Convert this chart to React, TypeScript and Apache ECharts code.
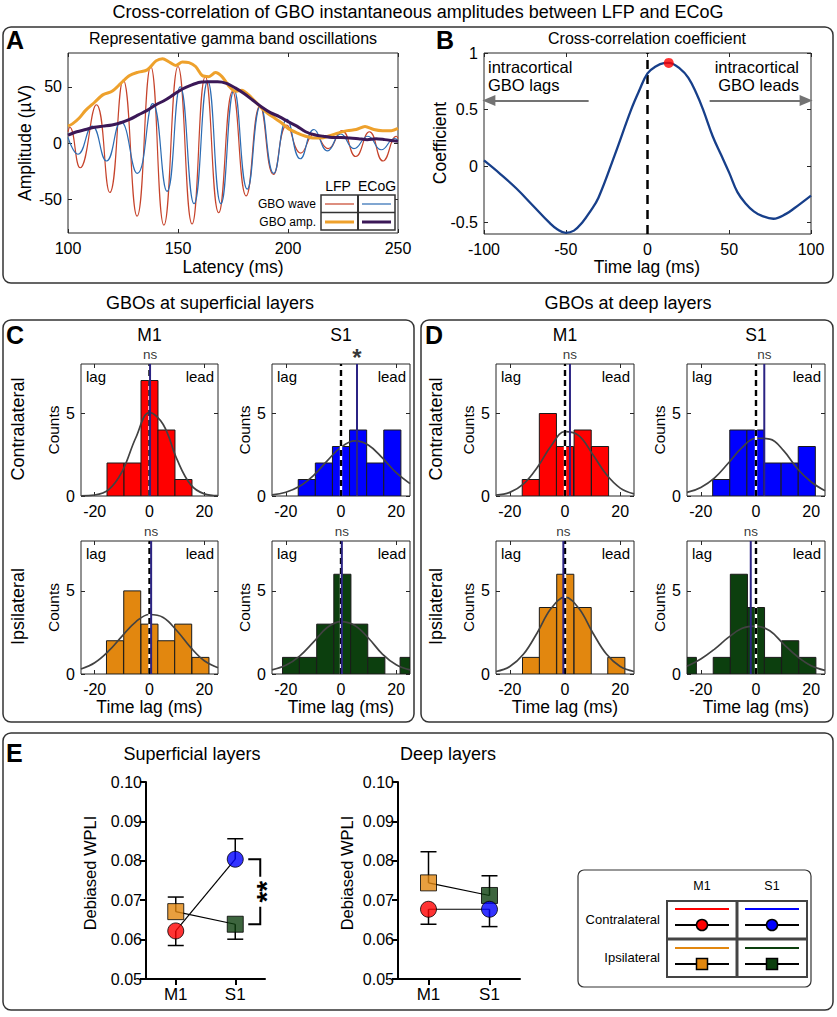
import React, { useEffect, useRef } from "react";
import * as echarts from "echarts";

const FONT = "'Liberation Sans', Arial, Helvetica, sans-serif";

// ---------------- Panel A: representative gamma band oscillations ----------------
const lfpWaveT = [100, 100.8, 105.5, 112.9, 119, 125.1, 131.4, 137.6, 143.6, 150, 156.4, 162.4, 168.5, 174.8, 181, 187.3, 193.4, 199.5, 205.8, 212, 218.2, 224.5, 230.8, 237, 243.2, 249.3, 250];
const lfpWaveV = [10, 14, -22, 34, -44, 56, -65, 68, -73, 68, -72, 59, -62, 46, -47, 33, -28, 16, -9, 8, -5, 11, -12, 10, -16, 6, 4];
const ecogWaveT = [100, 104.5, 111, 117.5, 124, 131.5, 138.5, 145, 151, 157.3, 163.5, 169.5, 175.5, 181.5, 187.5, 193.5, 199.5, 205.6, 211.8, 218, 224, 230, 236.3, 242.4, 248.5, 250];
const ecogWaveV = [5, -10, 15, -16, 19, -27, 35, -43, 50, -54, 55, -54, 47, -41, 33, -27, 21, -14, 12, -7, 8, -5, 6, -6, 4, 2];
const lfpAmpT = [100, 102, 105, 108, 112, 116, 120, 124, 128, 132, 136, 140, 143, 146, 149, 152, 155, 158, 161, 164, 167, 170, 173, 176, 179, 182, 185, 188, 191, 194, 197, 200, 204, 208, 212, 215, 219, 223, 227, 231, 235, 239, 243, 247, 250];
const lfpAmpV = [15, 17, 22, 29, 36, 43, 46, 53, 60, 63, 65, 73, 75, 72, 69, 72, 71.5, 68, 60, 59, 62.6, 59, 51, 46, 47, 43, 37, 31, 26, 22, 18, 13, 9, 6, 4.4, 4.4, 6.5, 9, 11, 12, 14.7, 12, 11, 11, 13];
const ecogAmpT = [100, 104, 108, 112, 116, 120, 124, 128, 132, 136, 140, 144, 148, 152, 156, 160, 164, 168, 172, 176, 180, 184, 188, 192, 196, 200, 204, 208, 212, 216, 220, 224, 228, 232, 236, 240, 244, 248, 250];
const ecogAmpV = [7, 10, 12, 14, 15, 16, 18, 21, 25, 29, 34, 38, 43, 48, 51.5, 54, 54.4, 54.4, 53, 49, 44, 38, 32, 27, 23.5, 19, 15, 10, 7.4, 6, 5, 5, 4.4, 3.8, 3, 3.8, 3, 2, 1.5];
const latencyTicks = [100, 150, 200, 250];
const amplitudeTicks = [-50, 0, 50];

// ---------------- Panel B: cross-correlation coefficient ----------------
const lagT = [-100, -90, -80, -70, -60, -55, -50, -45, -40, -35, -30, -20, -10, -5, 0, 5, 10, 13, 20, 25, 30, 34, 40, 45, 50, 55, 60, 65, 70, 77, 85, 90, 100];
const coefV = [0.05, -0.07, -0.2, -0.35, -0.5, -0.56, -0.59, -0.57, -0.5, -0.4, -0.28, 0.1, 0.5, 0.67, 0.82, 0.88, 0.91, 0.912, 0.86, 0.78, 0.64, 0.5, 0.26, 0.1, -0.06, -0.23, -0.33, -0.4, -0.44, -0.465, -0.42, -0.37, -0.26];
const peakLag = [13, 0.912];
const lagAxisTicks = [-100, -50, 0, 50, 100];
const coefTicks = [-0.5, 0, 0.5, 1];
const arrowLevel = 0.58;
const arrowSpans = [[-36, -97], [38, 97]];

// ---------------- Panels C & D: histograms of time lags ----------------
const histLagTicks = [-20, 0, 20];
const countTicks = [0, 5];
const binWidth = 6.2;
const fitLags = [-25, -20, -15, -10, -5, 0, 5, 10, 15, 20, 25];

const cM1ContraCenters = [-12.4, -6.2, 0, 6.2, 12.4];
const cM1ContraCounts = [2, 2, 7, 4, 1];
const cM1ContraMean = 0.2;
const cM1ContraFit = [0.01, 0.06, 0.37, 1.48, 3.53, 5.05, 4.33, 2.23, 0.69, 0.13, 0.02];

const cS1ContraCenters = [-12.4, -6.2, 0, 6.2, 12.4, 18.6];
const cS1ContraCounts = [1, 2, 3, 4, 2, 4];
const cS1ContraMean = 5.8;
const cS1ContraFit = [0.07, 0.23, 0.59, 1.24, 2.13, 2.96, 3.34, 3.08, 2.31, 1.41, 0.75];

const cM1IpsiCenters = [-12.6, -6.3, 0, 6.1, 12.3, 18.6];
const cM1IpsiCounts = [2, 5, 3, 2, 3, 1];
const cM1IpsiMean = 0.6;
const cM1IpsiFit = [0.3, 0.68, 1.37, 2.28, 3.14, 3.58, 3.4, 2.6, 1.6, 0.8, 0.38];

const cS1IpsiCenters = [-18.1, -12, -5.7, 0.5, 6.6, 12.8, 24.5];
const cS1IpsiCounts = [1, 1, 3, 6, 3, 1, 1];
const cS1IpsiMean = 0.3;
const cS1IpsiFit = [0.25, 0.52, 1.08, 1.92, 2.8, 3.15, 2.92, 2.15, 1.2, 0.56, 0.25];

const dM1ContraCenters = [-12.4, -6.2, 0, 6.4, 12.7];
const dM1ContraCounts = [1, 5, 3, 4, 3];
const dM1ContraMean = 1.8;
const dM1ContraFit = [0.06, 0.22, 0.73, 1.74, 3.05, 3.9, 3.66, 2.53, 1.3, 0.48, 0.13];

const dS1ContraCenters = [-12.6, -6.4, -0.2, 6, 12.2, 18.4];
const dS1ContraCounts = [1, 4, 4, 2, 2, 3];
const dS1ContraMean = 3;
const dS1ContraFit = [0.22, 0.52, 1.1, 2.0, 2.95, 3.5, 3.45, 2.75, 1.65, 0.85, 0.32];

const dM1IpsiCenters = [-12.3, -6.2, 0.1, 6.4, 18.6];
const dM1IpsiCounts = [1, 4, 6, 4, 1];
const dM1IpsiMean = -0.6;
const dM1IpsiFit = [0.15, 0.45, 1.2, 2.5, 3.95, 4.62, 3.95, 2.5, 1.2, 0.45, 0.15];

const dS1IpsiCenters = [-24.7, -12.4, -6.2, 0, 6.1, 12.4, 18.6];
const dS1IpsiCounts = [1, 1, 6, 4, 1, 2, 1];
const dS1IpsiMean = -1.9;
const dS1IpsiFit = [0.46, 0.9, 1.5, 2.2, 2.75, 2.88, 2.6, 1.8, 1.05, 0.5, 0.22];

// ---------------- Panel E: debiased WPLI ----------------
const regionNames = ["M1", "S1"];
const regionPos = [1, 3];
const wpliTicks = [0.05, 0.06, 0.07, 0.08, 0.09, 0.1];
const supContraMean = [0.0622, 0.0804];
const supContraErr = [0.0585, 0.0856];
const supIpsiMean = [0.0671, 0.0639];
const supIpsiErr = [0.0708, 0.0601];
const deepContraMean = [0.0677, 0.0677];
const deepContraErr = [0.0639, 0.0633];
const deepIpsiMean = [0.0744, 0.0712];
const deepIpsiErr = [0.0823, 0.0762];

// ---------------- colours ----------------
const C_LFP_WAVE = "#c6432b";
const C_ECOG_WAVE = "#2c6cb3";
const C_LFP_AMP = "#eea12c";
const C_ECOG_AMP = "#3b1857";
const C_CURVE = "#173f8a";
const RED = "#ff0000";
const BLUE = "#0000ff";
const ORANGE = "#e2870f";
const GREEN = "#0c3f0e";
const MEAN_C = "#2b2383";
const FIT_C = "#424242";

const zip = (xs: number[], ys: number[]) => xs.map((x, i) => [x, ys[i]]);

function buildOption() {
  const grid: any[] = [];
  const xAxis: any[] = [];
  const yAxis: any[] = [];
  const series: any[] = [];
  const g: any[] = [];

  const txt = (text: string, x: number, y: number, size: number, o: any = {}) => ({
    type: "text",
    x,
    y,
    rotation: o.rotation || 0,
    z: 100,
    silent: true,
    style: {
      text,
      fill: o.color || "#000",
      fontSize: size,
      fontFamily: FONT,
      fontWeight: o.bold ? "bold" : "normal",
      textAlign: o.align || "center",
      textVerticalAlign: "middle",
    },
  });
  const ln = (x1: number, y1: number, x2: number, y2: number, color: string, w: number) => ({
    type: "line",
    z: 100,
    silent: true,
    shape: { x1, y1, x2, y2 },
    style: { stroke: color, lineWidth: w },
  });
  const box = (x: number, y: number, w: number, h: number, r = 8, lw = 1.5) => ({
    type: "rect",
    z: 1,
    silent: true,
    shape: { x, y, width: w, height: h, r },
    style: { fill: "none", stroke: "#333", lineWidth: lw },
  });

  function matGrid(b: any, xr: number[], xt: number[], yr: number[], yt: number[], showX = true) {
    const gi = grid.length;
    grid.push({ left: b.left, top: b.top, width: b.width, height: b.height, show: true, borderColor: "#262626", borderWidth: 1, backgroundColor: "rgba(0,0,0,0)" });
    const xi = xAxis.length;
    const yi = yAxis.length;
    const tick = (vals: number[]) => ({ show: true, inside: true, length: 4, customValues: vals, lineStyle: { color: "#262626", width: 1 } });
    const lab = (vals: number[], show: boolean, margin: number) => ({ show, customValues: vals, fontSize: 16, fontFamily: FONT, color: "#000", margin });
    const noLine = { show: false, onZero: false };
    xAxis.push({ type: "value", gridIndex: gi, min: xr[0], max: xr[1], position: "bottom", axisLine: noLine, axisTick: tick(xt), axisLabel: lab(xt, showX, 7), splitLine: { show: false } });
    xAxis.push({ type: "value", gridIndex: gi, min: xr[0], max: xr[1], position: "top", axisLine: noLine, axisTick: tick(xt), axisLabel: { show: false }, splitLine: { show: false } });
    yAxis.push({ type: "value", gridIndex: gi, min: yr[0], max: yr[1], position: "left", axisLine: noLine, axisTick: tick(yt), axisLabel: lab(yt, true, 6), splitLine: { show: false } });
    yAxis.push({ type: "value", gridIndex: gi, min: yr[0], max: yr[1], position: "right", axisLine: noLine, axisTick: tick(yt), axisLabel: { show: false }, splitLine: { show: false } });
    return { xi, yi };
  }

  const lineS = (ax: any, data: any[], color: string, width: number, extra: any = {}, dash: any = "solid") => ({
    type: "line",
    xAxisIndex: ax.xi,
    yAxisIndex: ax.yi,
    data,
    symbol: "none",
    showSymbol: false,
    silent: true,
    lineStyle: { color, width, type: dash },
    itemStyle: { color },
    ...extra,
  });

  // ======== Overall title and box for A/B ========
  g.push(txt("Cross-correlation of GBO instantaneous amplitudes between LFP and ECoG", 418, 12, 18));
  g.push(box(3, 27, 830, 256));

  // ======== Panel A ========
  const GA = { left: 68, top: 53, width: 330, height: 180 };
  const axA = matGrid(GA, [100, 250], latencyTicks, [-80, 80], amplitudeTicks);
  series.push(lineS(axA, zip(lfpWaveT, lfpWaveV), C_LFP_WAVE, 1.2, { smooth: 0.5, z: 2 }));
  series.push(lineS(axA, zip(ecogWaveT, ecogWaveV), C_ECOG_WAVE, 1.2, { smooth: 0.5, z: 3 }));
  series.push(lineS(axA, zip(lfpAmpT, lfpAmpV), C_LFP_AMP, 3, { smooth: 0.3, z: 4 }));
  series.push(lineS(axA, zip(ecogAmpT, ecogAmpV), C_ECOG_AMP, 3, { smooth: 0.3, z: 5 }));
  g.push(txt("A", 6, 40, 25, { bold: true, align: "left" }));
  g.push(txt("Representative gamma band oscillations", 233, 38, 16));
  g.push(txt("Amplitude (\u00b5V)", 25, 143, 17.5, { rotation: Math.PI / 2 }));
  g.push(txt("Latency (ms)", 233, 267, 17.5));
  // legend table of A
  g.push(txt("LFP", 338, 186, 14));
  g.push(txt("ECoG", 377, 186, 14));
  g.push({ type: "rect", z: 99, silent: true, shape: { x: 321, y: 195, width: 74, height: 35 }, style: { fill: "#fff", stroke: "#333", lineWidth: 1.5 } });
  g.push(ln(358, 195, 358, 230, "#333", 2));
  g.push(ln(321, 212.5, 395, 212.5, "#333", 1.5));
  g.push(txt("GBO wave", 316, 204, 12, { align: "right" }));
  g.push(txt("GBO amp.", 316, 222, 12, { align: "right" }));
  g.push(ln(325, 204, 354, 204, C_LFP_WAVE, 1.2));
  g.push(ln(362, 204, 391, 204, C_ECOG_WAVE, 1.2));
  g.push(ln(325, 222, 354, 222, C_LFP_AMP, 3));
  g.push(ln(362, 222, 391, 222, C_ECOG_AMP, 3));

  // ======== Panel B ========
  const GB = { left: 484, top: 53, width: 327, height: 181 };
  const axB = matGrid(GB, [-100, 100], lagAxisTicks, [-0.6, 1], coefTicks);
  series.push(
    lineS(axB, zip(lagT, coefV), C_CURVE, 2.3, {
      smooth: 0.4,
      z: 4,
      markLine: {
        silent: true,
        symbol: ["none", "triangle"],
        symbolSize: [11, 13],
        label: { show: false },
        lineStyle: { color: "#737373", width: 2, type: "solid" },
        data: arrowSpans.map(([a, b]) => [{ coord: [a, arrowLevel] }, { coord: [b, arrowLevel] }]),
      },
    })
  );
  series.push(lineS(axB, [[0, -0.6], [0, 1]], "#000", 2.5, { z: 3 }, [9, 6]));
  series.push({ type: "scatter", xAxisIndex: axB.xi, yAxisIndex: axB.yi, data: [peakLag], symbolSize: 10, itemStyle: { color: RED }, z: 6, silent: true });
  g.push(txt("B", 436, 40, 25, { bold: true, align: "left" }));
  g.push(txt("Cross-correlation coefficient", 647, 38, 16));
  g.push(txt("Coefficient", 440, 143, 17.5, { rotation: Math.PI / 2 }));
  g.push(txt("Time lag (ms)", 647, 267, 17.5));
  g.push(txt("intracortical", 488, 67, 16.5, { align: "left" }));
  g.push(txt("GBO lags", 488, 85, 16.5, { align: "left" }));
  g.push(txt("intracortical", 799, 67, 16.5, { align: "right" }));
  g.push(txt("GBO leads", 799, 85, 16.5, { align: "right" }));

  // ======== Panels C & D ========
  g.push(txt("GBOs at superficial layers", 210, 303, 18));
  g.push(txt("GBOs at deep layers", 628, 303, 18));
  g.push(box(3, 320, 411, 402));
  g.push(box(421, 320, 412, 402));
  g.push(txt("C", 6, 335, 25, { bold: true, align: "left" }));
  g.push(txt("D", 425, 335, 25, { bold: true, align: "left" }));

  const row1 = { top: 364, height: 132 };
  const row2 = { top: 541, height: 133 };
  const cols = [
    { left: 81, width: 137 },
    { left: 272, width: 138 },
    { left: 496, width: 138 },
    { left: 687, width: 138 },
  ];
  const hists = [
    { col: 0, row: row1, centers: cM1ContraCenters, counts: cM1ContraCounts, mean: cM1ContraMean, fit: cM1ContraFit, color: RED, sig: "ns" },
    { col: 1, row: row1, centers: cS1ContraCenters, counts: cS1ContraCounts, mean: cS1ContraMean, fit: cS1ContraFit, color: BLUE, sig: "*" },
    { col: 0, row: row2, centers: cM1IpsiCenters, counts: cM1IpsiCounts, mean: cM1IpsiMean, fit: cM1IpsiFit, color: ORANGE, sig: "ns" },
    { col: 1, row: row2, centers: cS1IpsiCenters, counts: cS1IpsiCounts, mean: cS1IpsiMean, fit: cS1IpsiFit, color: GREEN, sig: "ns" },
    { col: 2, row: row1, centers: dM1ContraCenters, counts: dM1ContraCounts, mean: dM1ContraMean, fit: dM1ContraFit, color: RED, sig: "ns" },
    { col: 3, row: row1, centers: dS1ContraCenters, counts: dS1ContraCounts, mean: dS1ContraMean, fit: dS1ContraFit, color: BLUE, sig: "ns" },
    { col: 2, row: row2, centers: dM1IpsiCenters, counts: dM1IpsiCounts, mean: dM1IpsiMean, fit: dM1IpsiFit, color: ORANGE, sig: "ns" },
    { col: 3, row: row2, centers: dS1IpsiCenters, counts: dS1IpsiCounts, mean: dS1IpsiMean, fit: dS1IpsiFit, color: GREEN, sig: "ns" },
  ];

  hists.forEach((h) => {
    const c = cols[h.col];
    const b = { left: c.left, width: c.width, top: h.row.top, height: h.row.height };
    const ax = matGrid(b, [-25, 25], histLagTicks, [0, 8], countTicks);
    const color = h.color;
    series.push({
      type: "custom",
      xAxisIndex: ax.xi,
      yAxisIndex: ax.yi,
      clip: true,
      silent: true,
      z: 2,
      encode: { x: 0, y: 1 },
      data: h.centers.map((ctr, i) => [ctr, h.counts[i], binWidth]),
      renderItem: (params: any, api: any) => {
        const ctr = api.value(0);
        const n = api.value(1);
        const w = api.value(2);
        if (!n) return null;
        const a = api.coord([ctr - w / 2, 0]);
        const p = api.coord([ctr + w / 2, n]);
        const cs = params.coordSys;
        const shape = echarts.graphic.clipRectByRect(
          { x: a[0], y: p[1], width: p[0] - a[0], height: a[1] - p[1] },
          { x: cs.x, y: cs.y, width: cs.width, height: cs.height }
        );
        if (!shape) return null;
        return { type: "rect", shape, style: { fill: color, stroke: "#1a1a1a", lineWidth: 1 } };
      },
    });
    series.push(lineS(ax, zip(fitLags, h.fit), FIT_C, 1.7, { smooth: 0.4, z: 3 }));
    series.push(lineS(ax, [[0, 0], [0, 8]], "#fff", 2.4, { z: 4 }));
    series.push(lineS(ax, [[0, 0], [0, 8]], "#000", 2.4, { z: 5 }, [6, 4]));
    series.push(lineS(ax, [[h.mean, 0], [h.mean, 8]], MEAN_C, 2, { z: 6 }));
    const star = h.sig === "*";
    series.push({
      type: "scatter",
      xAxisIndex: ax.xi,
      yAxisIndex: ax.yi,
      data: [[h.mean, 8]],
      symbolSize: 1,
      itemStyle: { color: "rgba(0,0,0,0)" },
      silent: true,
      clip: false,
      z: 7,
      label: {
        show: true,
        position: "top",
        distance: star ? -6 : 2,
        formatter: h.sig,
        fontSize: star ? 24 : 13.5,
        fontWeight: star ? "bold" : "normal",
        fontFamily: FONT,
        color: "#000",
      },
    });
    g.push(txt("lag", b.left + 5, b.top + 12, 15, { align: "left" }));
    g.push(txt("lead", b.left + b.width - 4, b.top + 12, 15, { align: "right" }));
    g.push(txt("Counts", b.left - 28, b.top + b.height / 2, 15.5, { rotation: Math.PI / 2 }));
    if (h.row === row2) g.push(txt("Time lag (ms)", b.left + b.width / 2, 707, 17.5));
  });
  // column and row titles
  cols.forEach((c, i) => g.push(txt(i % 2 === 0 ? "M1" : "S1", c.left + c.width / 2, 335, 17.5)));
  [18, 436].forEach((x) => {
    g.push(txt("Contralateral", x, row1.top + row1.height / 2 - 1, 18, { rotation: Math.PI / 2 }));
    g.push(txt("Ipsilateral", x, row2.top + row2.height / 2 - 1, 18, { rotation: Math.PI / 2 }));
  });

  // ======== Panel E ========
  g.push(box(3, 733, 830, 277));
  g.push(txt("E", 6, 753, 25, { bold: true, align: "left" }));
  g.push(txt("Superficial layers", 192, 754, 18));
  g.push(txt("Deep layers", 448, 754, 18));

  const ePanels = [
    { box: { left: 146, top: 782, width: 119, height: 197 }, cm: supContraMean, ce: supContraErr, im: supIpsiMean, ie: supIpsiErr, bracket: true, ylabX: 90 },
    { box: { left: 398, top: 782, width: 122, height: 197 }, cm: deepContraMean, ce: deepContraErr, im: deepIpsiMean, ie: deepIpsiErr, bracket: false, ylabX: 347 },
  ];
  ePanels.forEach((p) => {
    const gi = grid.length;
    grid.push({ ...p.box });
    const xi = xAxis.length;
    const yi = yAxis.length;
    xAxis.push({
      type: "value",
      gridIndex: gi,
      min: 0,
      max: 4,
      axisLine: { show: true, onZero: false, lineStyle: { color: "#000", width: 2 } },
      axisTick: { show: true, length: 6, customValues: regionPos, lineStyle: { color: "#000", width: 2 } },
      axisLabel: { customValues: regionPos, formatter: (v: number) => regionNames[regionPos.indexOf(v)] || "", fontSize: 17, fontFamily: FONT, color: "#000", margin: 7 },
      splitLine: { show: false },
    });
    yAxis.push({
      type: "value",
      gridIndex: gi,
      min: 0.05,
      max: 0.1,
      axisLine: { show: true, onZero: false, lineStyle: { color: "#000", width: 2 } },
      axisTick: { show: true, length: 6, customValues: wpliTicks, lineStyle: { color: "#000", width: 2 } },
      axisLabel: { customValues: wpliTicks, formatter: (v: number) => v.toFixed(2), fontSize: 16, fontFamily: FONT, color: "#000", margin: 4 },
      splitLine: { show: false },
    });
    const ax = { xi, yi };
    series.push(lineS(ax, zip(regionPos, p.cm), "#000", 1.2, { z: 2 }));
    series.push(lineS(ax, zip(regionPos, p.im), "#000", 1.2, { z: 2 }));
    const errData = [
      ...regionPos.map((x, i) => [x, p.cm[i], p.ce[i]]),
      ...regionPos.map((x, i) => [x, p.im[i], p.ie[i]]),
    ];
    series.push({
      type: "custom",
      xAxisIndex: xi,
      yAxisIndex: yi,
      silent: true,
      z: 3,
      encode: { x: 0, y: [1, 2] },
      data: errData,
      renderItem: (params: any, api: any) => {
        const a = api.coord([api.value(0), api.value(1)]);
        const e = api.coord([api.value(0), api.value(2)]);
        const st = { stroke: "#000", lineWidth: 1.5 };
        return {
          type: "group",
          children: [
            { type: "line", shape: { x1: a[0], y1: a[1], x2: e[0], y2: e[1] }, style: st },
            { type: "line", shape: { x1: e[0] - 8, y1: e[1], x2: e[0] + 8, y2: e[1] }, style: st },
          ],
        };
      },
    });
    series.push({
      type: "scatter",
      xAxisIndex: xi,
      yAxisIndex: yi,
      silent: true,
      z: 4,
      symbolSize: 16,
      data: [
        { value: [regionPos[0], p.im[0]], symbol: "rect", itemStyle: { color: ORANGE } },
        { value: [regionPos[1], p.im[1]], symbol: "rect", itemStyle: { color: GREEN } },
      ],
      itemStyle: { borderColor: "#000", borderWidth: 1 },
    });
    series.push({
      type: "scatter",
      xAxisIndex: xi,
      yAxisIndex: yi,
      silent: true,
      z: 5,
      symbolSize: 16,
      data: [
        { value: [regionPos[0], p.cm[0]], symbol: "circle", itemStyle: { color: RED } },
        { value: [regionPos[1], p.cm[1]], symbol: "circle", itemStyle: { color: BLUE } },
      ],
      itemStyle: { borderColor: "#000", borderWidth: 1 },
    });
    if (p.bracket) {
      series.push({
        type: "custom",
        xAxisIndex: xi,
        yAxisIndex: yi,
        silent: true,
        z: 6,
        clip: false,
        encode: { x: 0, y: [1, 2] },
        data: [[regionPos[1], p.cm[1], p.im[1]]],
        renderItem: (params: any, api: any) => {
          const t = api.coord([api.value(0), api.value(1)]);
          const bt = api.coord([api.value(0), api.value(2)]);
          const xs = t[0] + 13;
          const xe = t[0] + 25;
          const mid = (t[1] + bt[1]) / 2;
          const st = { stroke: "#000", lineWidth: 2, fill: "none" };
          return {
            type: "group",
            children: [
              { type: "polyline", shape: { points: [[xs, t[1]], [xe, t[1]], [xe, mid - 15]] }, style: st },
              { type: "polyline", shape: { points: [[xe, mid + 15], [xe, bt[1]], [xs, bt[1]]] }, style: st },
              {
                type: "text",
                x: xe + 6,
                y: mid,
                rotation: Math.PI / 2,
                style: { text: "**", fontSize: 28, fontWeight: "bold", fontFamily: FONT, fill: "#000", textAlign: "center", textVerticalAlign: "middle" },
              },
            ],
          };
        },
      });
    }
    g.push(txt("Debiased WPLI", p.ylabX, 873, 16.5, { rotation: Math.PI / 2 }));
  });

  // legend table of E
  g.push(box(578, 870, 233, 117, 6, 1.2));
  g.push(txt("M1", 702, 886, 12.5));
  g.push(txt("S1", 772, 886, 12.5));
  g.push(txt("Contralateral", 660, 919, 13, { align: "right" }));
  g.push(txt("Ipsilateral", 660, 957, 13, { align: "right" }));
  g.push({ type: "rect", z: 100, silent: true, shape: { x: 667, y: 901, width: 140, height: 76 }, style: { fill: "none", stroke: "#444", lineWidth: 2 } });
  g.push(ln(737, 901, 737, 977, "#444", 3));
  g.push(ln(667, 939, 807, 939, "#444", 3));
  const legCells = [
    { cx: 702, y: 909, color: RED, sym: "circle" },
    { cx: 772, y: 909, color: BLUE, sym: "circle" },
    { cx: 702, y: 948, color: ORANGE, sym: "rect" },
    { cx: 772, y: 948, color: GREEN, sym: "rect" },
  ];
  legCells.forEach((c) => {
    g.push(ln(c.cx - 27, c.y, c.cx + 27, c.y, c.color, 2));
    g.push(ln(c.cx - 27, c.y + 16, c.cx + 27, c.y + 16, "#000", 2));
    if (c.sym === "circle") {
      g.push({ type: "circle", z: 101, silent: true, shape: { cx: c.cx, cy: c.y + 16, r: 5.5 }, style: { fill: c.color, stroke: "#000", lineWidth: 1.5 } });
    } else {
      g.push({ type: "rect", z: 101, silent: true, shape: { x: c.cx - 5.5, y: c.y + 10.5, width: 11, height: 11 }, style: { fill: c.color, stroke: "#000", lineWidth: 1.5 } });
    }
  });

  return {
    animation: false,
    backgroundColor: "#fff",
    textStyle: { fontFamily: FONT },
    grid,
    xAxis,
    yAxis,
    series,
    graphic: { elements: g },
  };
}

export default function App() {
  const ref = useRef<HTMLDivElement>(null);
  useEffect(() => {
    document.body.style.margin = "0";
    const chart = echarts.init(ref.current as HTMLDivElement, null, { renderer: "svg" });
    chart.setOption(buildOption() as any);
    return () => chart.dispose();
  }, []);
  return <div ref={ref} style={{ width: 837, height: 1017 }} />;
}
